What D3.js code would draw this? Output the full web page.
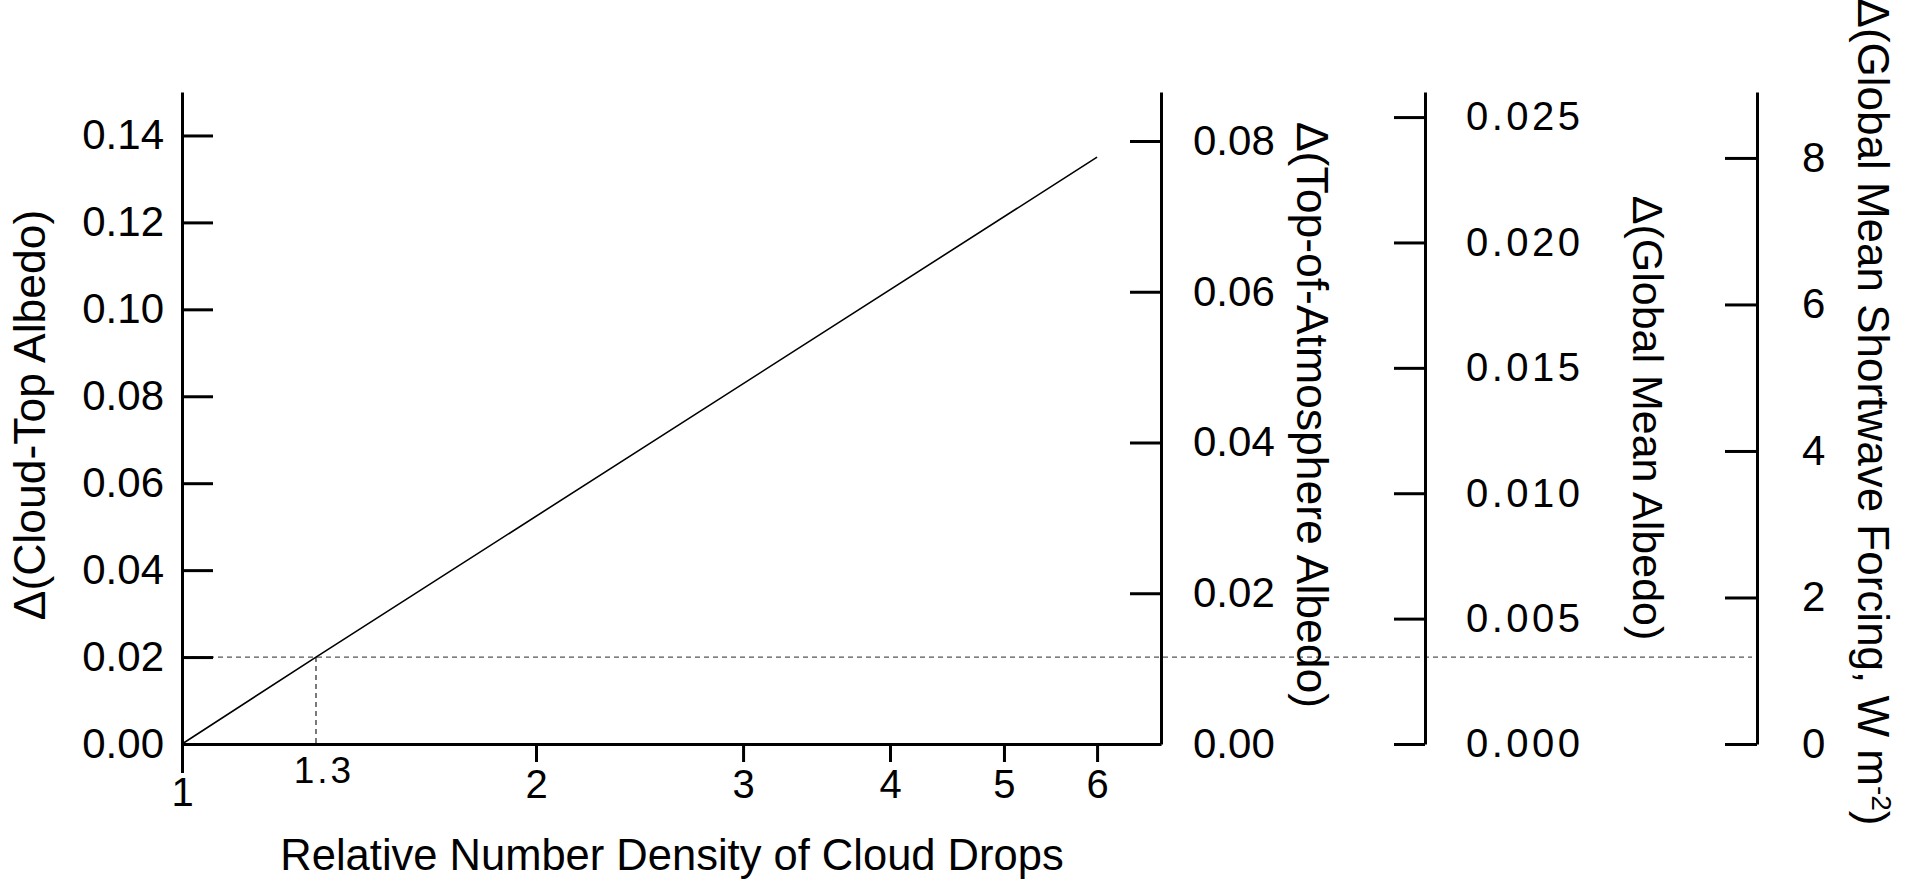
<!DOCTYPE html>
<html>
<head>
<meta charset="utf-8">
<script src="https://cdn.jsdelivr.net/npm/d3@7"></script>
<style>
  body { margin: 0; background: #fff; }
  svg text { font-family: "Liberation Sans", Arial, Helvetica, sans-serif; fill: #000; }
</style>
</head>
<body>
<div id="chart"></div>
<script>
// values
const xTicks = [1, 2, 3, 4, 5, 6];
const cloudTopTicks = [0, 0.02, 0.04, 0.06, 0.08, 0.10, 0.12, 0.14];
const toaTicks = [0, 0.02, 0.04, 0.06, 0.08];
const globalTicks = [0, 0.005, 0.010, 0.015, 0.020, 0.025];
const forcingTicks = [0, 2, 4, 6, 8];

const dropRatio = [1, 1.3, 6];
const dCloudTop = [0, 0.02, 0.135];

const refRatio = 1.3;
const refAlbedo = 0.02;

const xDomain = [1, 6.8];
const cloudTopDomain = [0, 0.15];
const toaDomain = [0, 0.0865];
const globalDomain = [0, 0.026];
const forcingDomain = [0, 8.9];

const W = 1916, H = 879;
const plotLeft = 182, plotRight = 1161, plotTop = 92, plotBottom = 744;
const globalX = 1425, forcingX = 1757;

const svg = d3.select("#chart").append("svg")
    .attr("width", W)
    .attr("height", H);

const x = d3.scaleLog().domain(xDomain).range([plotLeft, plotRight]);
const yCloud = d3.scaleLinear().domain(cloudTopDomain).range([plotBottom, plotTop]);
const yToa = d3.scaleLinear().domain(toaDomain).range([plotBottom, plotTop]);
const yGlobal = d3.scaleLinear().domain(globalDomain).range([plotBottom, plotTop]);
const yForcing = d3.scaleLinear().domain(forcingDomain).range([plotBottom, plotTop]);

function styleAxis(g, size) {
    g.attr("font-family", null).attr("font-size", null);
    g.selectAll("path.domain").attr("stroke-width", 3);
    g.selectAll(".tick line").attr("stroke-width", 3);
    g.selectAll(".tick text").style("font-size", size + "px");
}

// reference dashed lines
svg.append("line")
    .attr("x1", plotLeft).attr("x2", forcingX - 5)
    .attr("y1", yCloud(refAlbedo)).attr("y2", yCloud(refAlbedo))
    .attr("stroke", "#555").attr("stroke-width", 1.2)
    .attr("stroke-dasharray", "5,4");

svg.append("line")
    .attr("x1", x(refRatio)).attr("x2", x(refRatio))
    .attr("y1", yCloud(refAlbedo)).attr("y2", plotBottom)
    .attr("stroke", "#222").attr("stroke-width", 1.2)
    .attr("stroke-dasharray", "5,4");

// data line
const line = d3.line()
    .x((d, i) => x(d))
    .y((d, i) => yCloud(dCloudTop[i]));

svg.append("path")
    .attr("d", line(dropRatio))
    .attr("fill", "none")
    .attr("stroke", "#000")
    .attr("stroke-width", 1.6);

// x axis
const gx = svg.append("g")
    .attr("transform", "translate(0," + plotBottom + ")")
    .call(d3.axisBottom(x).tickValues(xTicks).tickFormat(d3.format("d"))
        .tickSizeInner(18).tickSizeOuter(0).tickPadding(8));
styleAxis(gx, 40);
gx.selectAll(".tick").filter(d => d === 1).each(function() {
    d3.select(this).select("line").attr("y2", 29);
    d3.select(this).select("text").attr("y", 34);
});

svg.append("text")
    .attr("x", x(refRatio) + 8)
    .attr("y", 783)
    .attr("text-anchor", "middle")
    .style("font-size", "37px")
    .style("letter-spacing", "3px")
    .text("1.3");

// left axis
const gl = svg.append("g")
    .attr("transform", "translate(" + plotLeft + ",0)")
    .call(d3.axisLeft(yCloud).tickValues(cloudTopTicks).tickFormat(d3.format(".2f"))
        .tickSizeInner(-31).tickSizeOuter(0).tickPadding(18));
styleAxis(gl, 42);

// top-of-atmosphere axis
const gt = svg.append("g")
    .attr("transform", "translate(" + plotRight + ",0)")
    .call(d3.axisRight(yToa).tickValues(toaTicks).tickFormat(d3.format(".2f"))
        .tickSizeInner(-31).tickSizeOuter(0).tickPadding(32));
styleAxis(gt, 42);

// global mean albedo axis
const gg = svg.append("g")
    .attr("transform", "translate(" + globalX + ",0)")
    .call(d3.axisRight(yGlobal).tickValues(globalTicks).tickFormat(d3.format(".3f"))
        .tickSizeInner(-31).tickSizeOuter(0).tickPadding(41));
styleAxis(gg, 40);
gg.selectAll(".tick text").style("letter-spacing", "3.5px");

// forcing axis
const gf = svg.append("g")
    .attr("transform", "translate(" + forcingX + ",0)")
    .call(d3.axisRight(yForcing).tickValues(forcingTicks).tickFormat(d3.format("d"))
        .tickSizeInner(-32).tickSizeOuter(0).tickPadding(45));
styleAxis(gf, 42);

// axis titles
svg.append("text")
    .attr("x", 672)
    .attr("y", 870)
    .attr("text-anchor", "middle")
    .style("font-size", "43.5px")
    .text("Relative Number Density of Cloud Drops");

svg.append("text")
    .attr("transform", "translate(45,415) rotate(-90)")
    .attr("text-anchor", "middle")
    .style("font-size", "44.5px")
    .text("\u0394(Cloud-Top Albedo)");

svg.append("text")
    .attr("transform", "translate(1297,415) rotate(90)")
    .attr("text-anchor", "middle")
    .style("font-size", "44.5px")
    .text("\u0394(Top-of-Atmosphere Albedo)");

svg.append("text")
    .attr("transform", "translate(1633,418) rotate(90)")
    .attr("text-anchor", "middle")
    .style("font-size", "43px")
    .text("\u0394(Global Mean Albedo)");

const ft = svg.append("text")
    .attr("transform", "translate(1858,412) rotate(90)")
    .attr("text-anchor", "middle")
    .style("font-size", "44px");
ft.append("tspan").text("\u0394(Global Mean Shortwave Forcing, W m");
ft.append("tspan").attr("dy", -14).style("font-size", "28px").text("-2");
ft.append("tspan").attr("dy", 14).text(")");
</script>
</body>
</html>
